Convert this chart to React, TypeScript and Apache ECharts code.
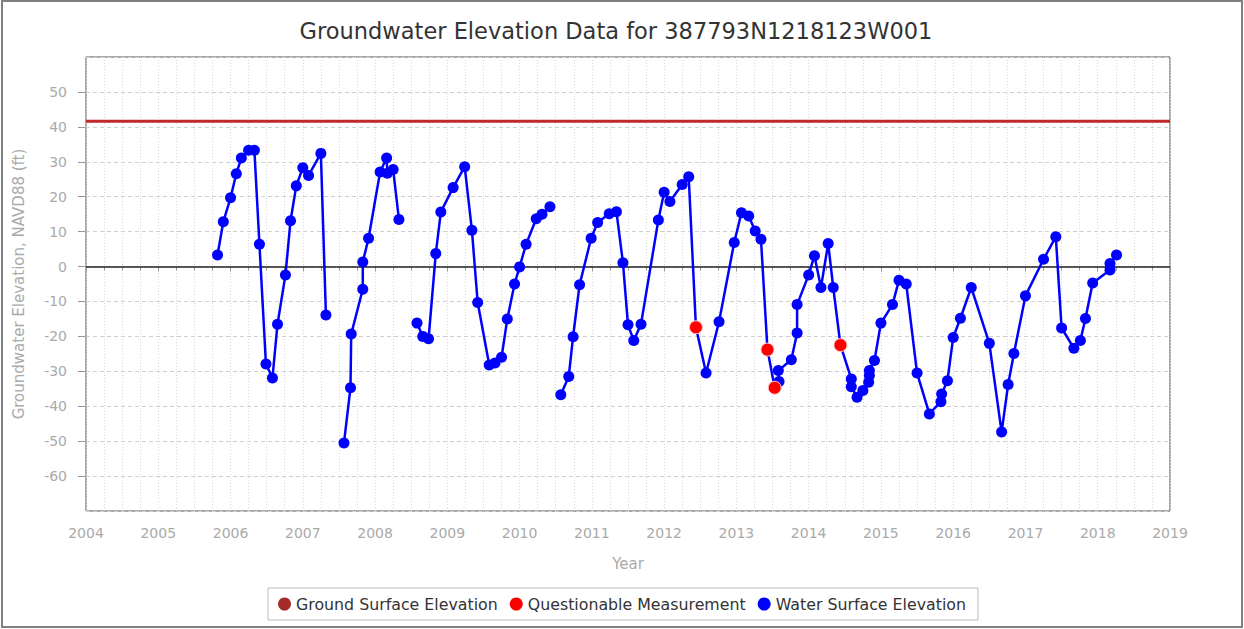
import React, { useEffect, useRef } from "react";
import * as echarts from "echarts";

const titleText = "Groundwater Elevation Data for 387793N1218123W001";
const xTickYears = [2004, 2019];
const groundElevation = 41.6;

// Water surface elevation (null = gap in record)
const wseDates = [
  2005.82, 2005.9, 2006.0, 2006.08, 2006.15, 2006.25, 2006.33, 2006.4, 2006.49, 2006.58,
  2006.65, 2006.76, 2006.83, 2006.91, 2007.0, 2007.08, 2007.25, 2007.32,
  2007.45,
  2007.57, 2007.66, 2007.67, 2007.83, 2007.83, 2007.91, 2008.07, 2008.16, 2008.17, 2008.25, 2008.33,
  2008.45,
  2008.58, 2008.66, 2008.74, 2008.84, 2008.91, 2009.08, 2009.24, 2009.34, 2009.42, 2009.58,
  2009.66, 2009.75, 2009.83, 2009.93, 2010.0, 2010.09, 2010.23, 2010.31, 2010.42,
  2010.5,
  2010.57, 2010.68, 2010.74, 2010.83, 2010.99, 2011.08, 2011.24, 2011.34, 2011.43, 2011.5,
  2011.58, 2011.68, 2011.92, 2012.0, 2012.08, 2012.25, 2012.34, 2012.44, 2012.58, 2012.76,
  2012.97, 2013.07, 2013.17, 2013.26, 2013.34, 2013.43, 2013.53, 2013.59, 2013.58, 2013.76,
  2013.84, 2013.84, 2014.0, 2014.08, 2014.17, 2014.27, 2014.34, 2014.44, 2014.59, 2014.59,
  2014.67, 2014.75, 2014.83, 2014.84, 2014.84, 2014.91, 2015.0, 2015.16, 2015.25, 2015.35,
  2015.5, 2015.67, 2015.83, 2015.84, 2015.92, 2016.0, 2016.1, 2016.25, 2016.5, 2016.67,
  2016.76, 2016.84, 2017.0, 2017.25, 2017.42, 2017.5, 2017.67, 2017.76, 2017.83, 2017.93,
  2018.17, 2018.17, 2018.26,
];
const wseValues = [
  3.3, 12.8, 19.7, 26.6, 31.1, 33.3, 33.3, 6.4, -27.9, -31.9,
  -16.5, -2.4, 13.1, 23.1, 28.3, 26.1, 32.4, -13.9,
  null,
  -50.5, -34.7, -19.3, -6.5, 1.3, 8.1, 27.1, 31.1, 26.7, 27.8, 13.5,
  null,
  -16.2, -20.0, -20.7, 3.7, 15.6, 22.6, 28.6, 10.4, -10.3, -28.2,
  -27.6, -26.0, -15.0, -5.0, -0.1, 6.4, 13.7, 15.0, 17.1,
  null,
  -36.7, -31.5, -20.1, -5.2, 8.1, 12.6, 15.1, 15.7, 1.1, -16.7,
  -21.2, -16.5, 13.3, 21.3, 18.6, 23.5, 25.7, -17.4, -30.5, -15.8,
  6.9, 15.4, 14.5, 10.2, 7.8, -23.8, -34.7, -32.9, -29.8, -26.7,
  -19.0, -10.9, -2.4, 3.1, -6.0, 6.6, -6.0, -22.5, -32.2, -34.4,
  -37.4, -35.5, -33.1, -31.2, -29.8, -26.9, -16.2, -10.9, -3.9, -5.0,
  -30.5, -42.2, -38.7, -36.5, -32.7, -20.3, -14.8, -6.0, -22.0, -47.4,
  -33.8, -24.9, -8.4, 2.1, 8.5, -17.6, -23.4, -21.2, -14.9, -4.7,
  -1.0, 0.9, 3.3,
];

// Questionable measurements
const qDates = [2012.44, 2013.43, 2013.53, 2014.44];
const qValues = [-17.4, -23.8, -34.7, -22.5];

const FONT = "DejaVu Sans";

export default function App() {
  const ref = useRef<HTMLDivElement>(null);

  useEffect(() => {
    if (!ref.current) return;
    const chart = echarts.init(ref.current, null, { renderer: "svg" });

    const wseData = wseDates.map((d, i) =>
      wseValues[i] === null ? [d, "-"] : [d, wseValues[i]]
    );
    const qData = qDates.map((d, i) => [d, qValues[i]]);
    const groundData = xTickYears.map((y) => [y, groundElevation]);

    chart.setOption({
      animation: false,
      backgroundColor: "#fff",
      title: {
        text: titleText,
        left: 611,
        top: 14,
        textAlign: "center",
        textStyle: { fontFamily: FONT, fontSize: 22.5, fontWeight: "normal", color: "#333" },
      },
      graphic: [
        {
          type: "rect",
          shape: { x: 2, y: 1, width: 1240, height: 626 },
          style: { fill: "none", stroke: "#808080", lineWidth: 2 },
          silent: true,
        },
      ],
      legend: {
        left: "center",
        top: 588,
        padding: [8, 12, 8, 10],
        itemGap: 12,
        itemWidth: 13,
        itemHeight: 13,
        borderColor: "#bbb",
        borderWidth: 1,
        textStyle: { fontFamily: FONT, fontSize: 15.8, color: "#333" },
        data: [
          { name: "Ground Surface Elevation", icon: "circle", itemStyle: { color: "#a52a2a", opacity: 1 } },
          { name: "Questionable Measurement", icon: "circle", itemStyle: { color: "#ff0000", opacity: 1, borderWidth: 0 } },
          { name: "Water Surface Elevation", icon: "circle", itemStyle: { color: "#0000ff", opacity: 1 } },
        ],
      },
      grid: {
        left: 86,
        right: 74,
        top: 57,
        bottom: 118,
        show: true,
        borderColor: "#555",
        borderWidth: 1,
      },
      xAxis: {
        type: "value",
        min: 2004,
        max: 2019,
        interval: 1,
        name: "Year",
        nameLocation: "middle",
        nameGap: 45,
        nameTextStyle: { fontFamily: FONT, fontSize: 15, color: "#aaa" },
        axisLine: { show: false },
        axisTick: { show: true, length: 5, lineStyle: { color: "#999" } },
        minorTick: { show: true, splitNumber: 4, length: 4, lineStyle: { color: "#999" } },
        axisLabel: {
          margin: 15,
          fontFamily: FONT,
          fontSize: 14,
          color: "#aaa",
          formatter: (v: number) => String(v),
        },
        splitLine: { show: true, lineStyle: { color: "#d8d8d8", type: [1, 2] } },
        minorSplitLine: { show: true, lineStyle: { color: "#d8d8d8", type: [1, 2] } },
      },
      yAxis: {
        type: "value",
        min: -70,
        max: 60,
        interval: 10,
        name: "Groundwater Elevation, NAVD88 (ft)",
        nameLocation: "middle",
        nameGap: 60,
        nameTextStyle: { fontFamily: FONT, fontSize: 15, color: "#aaa" },
        axisLine: { show: false },
        axisTick: { show: true, length: 8, lineStyle: { color: "#999" } },
        axisLabel: {
          margin: 19,
          fontFamily: FONT,
          fontSize: 14,
          color: "#aaa",
          showMinLabel: false,
          showMaxLabel: false,
        },
        splitLine: { show: true, lineStyle: { color: "#d0d0d0", type: [4, 3] } },
      },
      series: [
        {
          name: "Ground Surface Elevation",
          type: "line",
          data: groundData,
          showSymbol: false,
          symbol: "none",
          itemStyle: { color: "#a52a2a" },
          lineStyle: { color: "#c0282b", width: 3 },
          z: 3,
          silent: true,
        },
        {
          name: "Water Surface Elevation",
          type: "line",
          data: wseData,
          connectNulls: false,
          symbol: "circle",
          symbolSize: 11,
          itemStyle: { color: "#0000ff" },
          lineStyle: { color: "#0000ff", width: 2.5 },
          z: 4,
          markLine: {
            silent: true,
            symbol: ["none", "none"],
            label: { show: false },
            lineStyle: { color: "#222", width: 1.5, type: "solid" },
            data: [{ yAxis: 0 }],
            z: 2,
          },
        },
        {
          name: "Questionable Measurement",
          type: "scatter",
          data: qData,
          symbol: "circle",
          symbolSize: 13,
          itemStyle: { color: "#ff0000", opacity: 1, borderColor: "#ffc8c8", borderWidth: 1 },
          z: 5,
        },
      ],
    });

    return () => chart.dispose();
  }, []);

  return (
    <div
      ref={ref}
      style={{ position: "absolute", left: 0, top: 0, width: 1244, height: 629 }}
    />
  );
}
